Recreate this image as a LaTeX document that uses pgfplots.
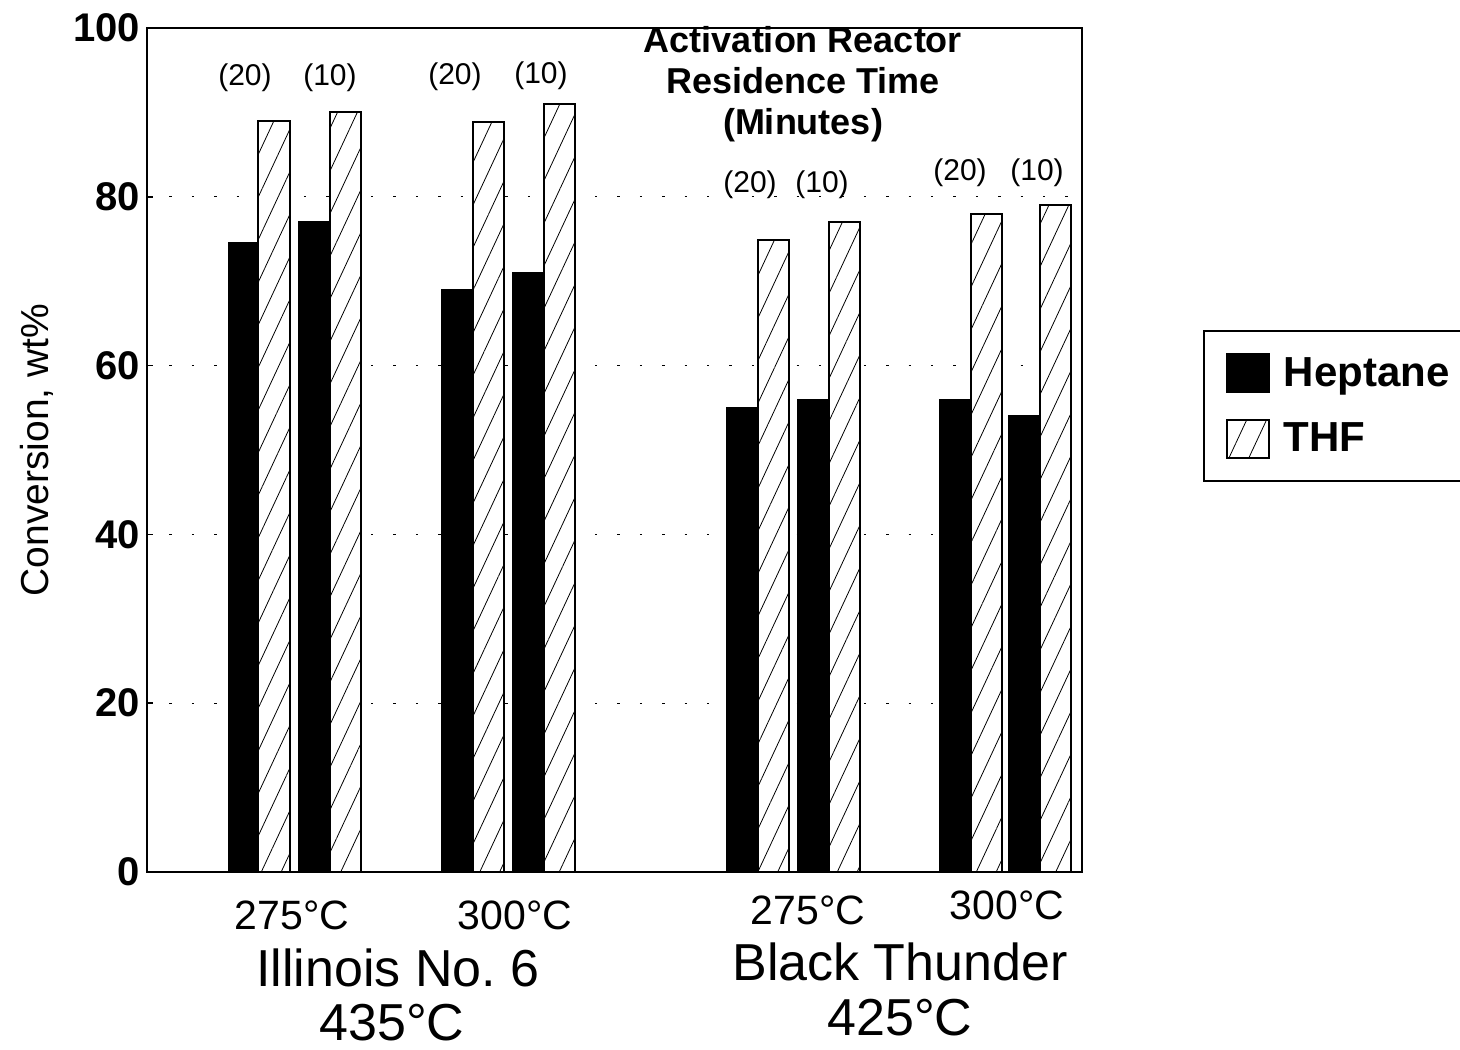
\documentclass[border=0pt]{standalone}
\usepackage{fontspec}
\setmainfont{Liberation Sans}
\usepackage{pgfplots}
\pgfplotsset{compat=1.18}
\usetikzlibrary{patterns.meta}
\frenchspacing
\begin{document}
\begin{tikzpicture}
\useasboundingbox (-73.5pt,-88.5pt) rectangle (656.5pt,436pt);
\begin{axis}[
  at={(0,0)}, anchor=south west,
  scale only axis, width=467.5pt, height=422pt,
  xmin=147, xmax=1082, ymin=0, ymax=100,
  xtick=\empty, ytick={0,20,40,60,80,100},
  tick pos=left,
  ymajorgrids,
  grid style={black, line width=0.7pt, dash pattern=on 1.2pt off 10pt},
  axis line style={line width=1pt},
  major tick length=3pt, tick style={black, line width=0.8pt},
  /pgf/number format/assume math mode=true,
  yticklabel style={font=\fontsize{20}{22}\selectfont\bfseries},
  ylabel={Conversion, wt\%},
  y label style={at={(axis description cs:-0.1176,0.5)}, anchor=center, font=\fontsize{19.5}{22}\selectfont},
  clip=false,
  legend image code/.code={\draw[#1] (0pt,-9.5pt) rectangle (21pt,9.5pt); \path (26pt,0pt);},
  legend style={at={(axis description cs:1.1294,0.642)}, anchor=north west,
    draw=black, line width=1pt, font=\fontsize{21}{23}\selectfont\bfseries,
    inner xsep=11pt, inner ysep=11pt, row sep=13pt, cells={anchor=west}},
]
\addplot[ybar, bar width=31, bar shift=0, fill=black, draw=black, line width=0.8pt]
  coordinates {(244,74.6) (314,77.0) (457,69.0) (528,71.0) (742,55.0) (813,55.9) (955,56.0) (1024,54.1)};
\addlegendentry{Heptane}
\addplot[ybar, bar width=31, bar shift=0, fill=white, draw=black, line width=1pt,
  postaction={pattern={Lines[angle=65, distance=9pt, line width=0.4pt]}}]
  coordinates {(274,89.0) (345,90.0) (488,88.9) (559,91.0) (773,74.9) (844,77.0) (986,78.0) (1055,79.0)};
\addlegendentry{THF}

\node[font=\fontsize{18}{20.5}\selectfont\bfseries, align=center] at (axis cs:803,93.3) {Activation Reactor\\Residence Time\\(Minutes)};

\begin{scope}[every node/.style={font=\fontsize{15}{17}\selectfont}]
\node at (axis cs:245,94.1) {(20)};
\node at (axis cs:330,94.1) {(10)};
\node at (axis cs:455,94.2) {(20)};
\node at (axis cs:541,94.4) {(10)};
\node at (axis cs:750,81.4) {(20)};
\node at (axis cs:822,81.4) {(10)};
\node at (axis cs:960,82.9) {(20)};
\node at (axis cs:1037,82.9) {(10)};
\end{scope}

\begin{scope}[every node/.style={font=\fontsize{20.5}{22}\selectfont, inner sep=1pt}]
\node at (axis cs:292,-5.1) {275°C};
\node at (axis cs:515,-5.1) {300°C};
\node at (axis cs:808,-4.5) {275°C};
\node at (axis cs:1007,-3.9) {300°C};
\end{scope}

\begin{scope}[every node/.style={font=\fontsize{26}{28}\selectfont, inner sep=1pt}]
\node at (axis cs:398,-11.4) {Illinois No. 6};
\node at (axis cs:392,-17.9) {435°C};
\node at (axis cs:900,-10.7) {Black Thunder};
\node at (axis cs:900,-17.3) {425°C};
\end{scope}
\end{axis}
\end{tikzpicture}
\end{document}
